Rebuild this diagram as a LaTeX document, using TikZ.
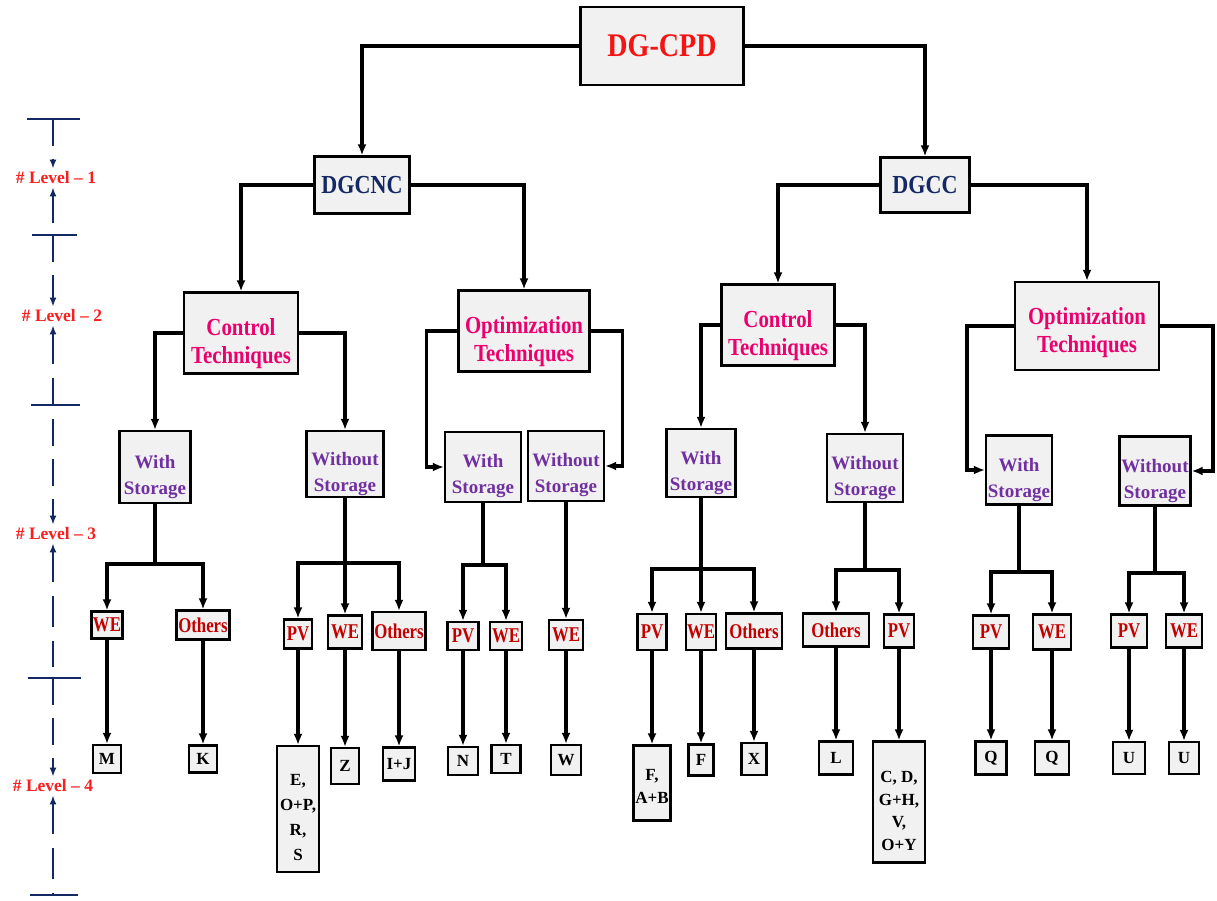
\documentclass[tikz,border=0pt]{standalone}
\usepackage{fontspec}
\setmainfont{Liberation Serif}
\newfontfamily\cnarrow[FakeStretch=0.85]{Liberation Serif}
\newfontfamily\cleaf[FakeStretch=0.8]{Liberation Serif}
\usetikzlibrary{arrows.meta}
\definecolor{navyc}{RGB}{20,40,100}
\definecolor{dgred}{RGB}{245,20,20}
\definecolor{lvlred}{RGB}{250,30,30}
\definecolor{pinkc}{RGB}{235,0,110}
\definecolor{purplec}{RGB}{112,48,160}
\definecolor{leafred}{RGB}{195,0,0}
\definecolor{boxgray}{RGB}{241,241,241}
\tikzset{
  box/.style={draw=black, line width=2.2pt, fill=boxgray, inner sep=0pt, align=center},
  wh/.style 2 args={minimum width=#1pt, minimum height=#2pt},
  rootbox/.style={box, font=\cnarrow\fontsize{33}{36}\selectfont\bfseries, text=dgred},
  l1box/.style={box, font=\cnarrow\fontsize{26}{28}\selectfont\bfseries, text=navyc},
  l2txt/.style={inner sep=0pt, align=center, font=\cnarrow\fontsize{24.5}{28}\selectfont\bfseries, text=pinkc},
  l3txt/.style={inner sep=0pt, align=center, font=\fontsize{19}{26}\selectfont\bfseries, text=purplec},
  leafbox/.style={box, font=\cleaf\fontsize{21}{22}\selectfont\bfseries, text=leafred},
  endbox/.style={box, font=\fontsize{17}{22}\selectfont\bfseries, text=black},
  endtxt/.style={inner sep=0pt, align=center, font=\fontsize{17}{23}\selectfont\bfseries, text=black},
  conn/.style={line width=3.3pt, -{Latex[length=11pt,width=9pt]}},
  plainln/.style={line width=3.3pt},
  lvltext/.style={font=\fontsize{17.5}{19}\selectfont\bfseries, text=lvlred, inner sep=2pt},
  lvldown/.style={line width=2.4pt, draw=navyc, dash pattern=on 27pt off 13pt, -{Latex[length=9pt,width=7pt]}},
  lvlup/.style={line width=2.4pt, draw=navyc, dash pattern=on 31pt off 14pt, {Latex[length=9pt,width=7pt]}-},
  lvlbar/.style={line width=2.4pt, draw=navyc},
}
\begin{document}
\begin{tikzpicture}[x=1pt, y=-1pt]
\path[use as bounding box] (0,0) rectangle (1217,901);

% ---------- level indicator ----------
\coordinate (t1) at (53,119);
\coordinate (t2) at (53,235);
\coordinate (t3) at (53,405);
\coordinate (t4) at (53,678);
\coordinate (t5) at (53,895);
\node[lvltext] (lv1) at (56,178) {\# Level -- 1};
\node[lvltext] (lv2) at (62,316) {\# Level -- 2};
\node[lvltext] (lv3) at (56,534) {\# Level -- 3};
\node[lvltext] (lv4) at (53,786) {\# Level -- 4};
\draw[lvlbar] ([xshift=-26pt]t1) -- ([xshift=27pt]t1);
\draw[lvlbar] ([xshift=-21pt]t2) -- ([xshift=24pt]t2);
\draw[lvlbar] ([xshift=-22pt]t3) -- ([xshift=27pt]t3);
\draw[lvlbar] ([xshift=-25pt]t4) -- ([xshift=28pt]t4);
\draw[lvlbar] ([xshift=-23pt]t5) -- ([xshift=25pt]t5);
\draw[lvldown] (t1) -- ([yshift=1pt]t1 |- lv1.north);
\draw[lvlup, shorten >=12pt] ([yshift=-1pt]t2 |- lv1.south) -- (t2);
\draw[lvldown] (t2) -- ([yshift=1pt]t2 |- lv2.north);
\draw[lvlup] ([yshift=-1pt]t3 |- lv2.south) -- (t3);
\draw[lvldown, shorten <=14pt] (t3) -- ([yshift=1pt]t3 |- lv3.north);
\draw[lvlup, shorten >=11pt] ([yshift=-1pt]t4 |- lv3.south) -- (t4);
\draw[lvldown] (t4) -- ([yshift=1pt]t4 |- lv4.north);
\draw[lvlup] ([yshift=-1pt]t5 |- lv4.south) -- (t5);

% ---------- tree nodes ----------
\node[rootbox, wh={163}{78}] (root) at (662,46) {DG-CPD};
\node[l1box, wh={95}{57}] (dgcnc) at (362,185) {DGCNC};
\node[l1box, wh={89}{55}] (dgcc) at (925,185) {DGCC};

\node[box, wh={114}{81}, label={[l2txt, yshift=-11pt]center:{Control\\Techniques}}] (ct1) at (241,333) {};
\node[box, wh={131}{81}, label={[l2txt, yshift=-11pt]center:{Optimization\\Techniques}}] (ot1) at (524,331) {};
\node[box, wh={113}{81}, label={[l2txt, yshift=-11pt]center:{Control\\Techniques}}] (ct2) at (778,325) {};
\node[box, wh={144}{88}, label={[l2txt, yshift=-7pt]center:{Optimization\\Techniques}}] (ot2) at (1087,326) {};

\node[box, wh={71}{72}, label={[l3txt, yshift=-10pt]center:{With\\Storage}}] (ws1) at (155,467) {};
\node[box, wh={77}{66}, label={[l3txt, yshift=-10pt]center:{Without\\Storage}}] (wo1) at (345,464) {};
\node[box, wh={76}{70}, label={[l3txt, yshift=-9pt]center:{With\\Storage}}] (ws2) at (483,467) {};
\node[box, wh={76}{70}, label={[l3txt, yshift=-9pt]center:{Without\\Storage}}] (wo2) at (566,466) {};
\node[box, wh={69}{68}, label={[l3txt, yshift=-10pt]center:{With\\Storage}}] (ws3) at (701,463) {};
\node[box, wh={76}{68}, label={[l3txt, yshift=-10pt]center:{Without\\Storage}}] (wo3) at (865,468) {};
\node[box, wh={66}{69}, label={[l3txt, yshift=-10pt]center:{With\\Storage}}] (ws4) at (1019,470) {};
\node[box, wh={71}{69}, label={[l3txt, yshift=-10pt]center:{Without\\Storage}}] (wo4) at (1155,471) {};

\node[leafbox, wh={31}{27}] (a1) at (107,625) {WE};
\node[leafbox, wh={53}{29}] (a2) at (203,625) {Others};
\node[leafbox, wh={28}{29}] (a3) at (298,634) {PV};
\node[leafbox, wh={34}{33}] (a4) at (345,632) {WE};
\node[leafbox, wh={53}{38}] (a5) at (399,631) {Others};
\node[leafbox, wh={31}{28}] (a6) at (463,636) {PV};
\node[leafbox, wh={32}{28}] (a7) at (506,636) {WE};
\node[leafbox, wh={34}{30}] (a8) at (566,635) {WE};
\node[leafbox, wh={29}{36}] (a9) at (652,632) {PV};
\node[leafbox, wh={30}{36}] (a10) at (701,632) {WE};
\node[leafbox, wh={56}{35}] (a11) at (754,631) {Others};
\node[leafbox, wh={66}{33}] (a12) at (836,630) {Others};
\node[leafbox, wh={30}{33}] (a13) at (899,631) {PV};
\node[leafbox, wh={36}{33}] (a14) at (991,632) {PV};
\node[leafbox, wh={38}{35}] (a15) at (1052,632) {WE};
\node[leafbox, wh={36}{33}] (a16) at (1129,631) {PV};
\node[leafbox, wh={36}{33}] (a17) at (1184,631) {WE};

\node[endbox, wh={28}{28}] (b1) at (107,759) {M};
\node[endbox, wh={28}{27}] (b2) at (203,759) {K};
\node[box, wh={42}{126}, label={[endtxt, font=\fontsize{17}{25}\selectfont\bfseries, yshift=-9pt]center:{E,\\O+P,\\R,\\S}}] (b3) at (298,809) {};
\node[endbox, wh={28}{36}] (b4) at (345,766) {Z};
\node[endbox, wh={32}{33}] (b5) at (399,764) {I+J};
\node[endbox, wh={30}{28}] (b6) at (463,761) {N};
\node[endbox, wh={29}{28}] (b7) at (506,759) {T};
\node[endbox, wh={30}{30}] (b8) at (566,760) {W};
\node[box, wh={37}{75}, label={[endtxt, yshift=-3pt]center:{F,\\A+B}}] (b9) at (652,783) {};
\node[endbox, wh={25}{31}] (b10) at (701,760) {F};
\node[endbox, wh={25}{32}] (b11) at (754,759) {X};
\node[endbox, wh={34}{33}] (b12) at (836,758) {L};
\node[box, wh={52}{121}, label={[endtxt, font=\fontsize{17}{22.5}\selectfont\bfseries, yshift=-9pt]center:{C, D,\\G+H,\\V,\\O+Y}}] (b13) at (899,802) {};
\node[endbox, wh={31}{33}] (b14) at (991,758) {Q};
\node[endbox, wh={34}{33}] (b15) at (1052,758) {Q};
\node[endbox, wh={32}{32}] (b16) at (1129,758) {U};
\node[endbox, wh={30}{32}] (b17) at (1184,758) {U};

% ---------- connectors ----------
\draw[conn] (root.west) -| (dgcnc.north);
\draw[conn] (root.east) -| (dgcc.north);
\draw[conn] (dgcnc.west) -| (ct1.north);
\draw[conn] (dgcnc.east) -| (ot1.north);
\draw[conn] (dgcc.west) -| (ct2.north);
\draw[conn] (dgcc.east) -| (ot2.north);

\draw[conn] (ct1.west) -| (ws1.north);
\draw[conn] (ct1.east) -| (wo1.north);
\draw[conn] (ot1.west) -- ++(-31,0) |- (ws2.west);
\draw[conn] (ot1.east) -- ++(32,0) |- (wo2.east);
\draw[conn] (ct2.west) -| (ws3.north);
\draw[conn] (ct2.east) -| (wo3.north);
\draw[conn] (ot2.west) -- ++(-47,0) |- (ws4.west);
\draw[conn] (ot2.east) -- ++(53,0) |- (wo4.east);

\coordinate (j1) at (155,564);
\coordinate (j2) at (345,563);
\coordinate (j3) at (483,565);
\coordinate (j5) at (701,569);
\coordinate (j6) at (865,570);
\coordinate (j7) at (1019,572);
\coordinate (j8) at (1155,573);

\draw[plainln] (ws1.south) -- (j1);
\draw[conn] (j1) -| (a1.north);
\draw[conn] (j1) -| (a2.north);

\draw[plainln] (wo1.south) -- (j2);
\draw[conn] (j2) -| (a3.north);
\draw[conn] (wo1.south) -- (a4.north);
\draw[conn] (j2) -| (a5.north);

\draw[plainln] (ws2.south) -- (j3);
\draw[conn] (j3) -| (a6.north);
\draw[conn] (j3) -| (a7.north);

\draw[conn] (wo2.south) -- (a8.north);

\draw[plainln] (ws3.south) -- (j5);
\draw[conn] (j5) -| (a9.north);
\draw[conn] (ws3.south) -- (a10.north);
\draw[conn] (j5) -| (a11.north);

\draw[plainln] (wo3.south) -- (j6);
\draw[conn] (j6) -| (a12.north);
\draw[conn] (j6) -| (a13.north);

\draw[plainln] (ws4.south) -- (j7);
\draw[conn] (j7) -| (a14.north);
\draw[conn] (j7) -| (a15.north);

\draw[plainln] (wo4.south) -- (j8);
\draw[conn] (j8) -| (a16.north);
\draw[conn] (j8) -| (a17.north);

\draw[conn] (a1.south) -- (b1.north);
\draw[conn] (a2.south) -- (b2.north);
\draw[conn] (a3.south) -- (b3.north);
\draw[conn] (a4.south) -- (b4.north);
\draw[conn] (a5.south) -- (b5.north);
\draw[conn] (a6.south) -- (b6.north);
\draw[conn] (a7.south) -- (b7.north);
\draw[conn] (a8.south) -- (b8.north);
\draw[conn] (a9.south) -- (b9.north);
\draw[conn] (a10.south) -- (b10.north);
\draw[conn] (a11.south) -- (b11.north);
\draw[conn] (a12.south) -- (b12.north);
\draw[conn] (a13.south) -- (b13.north);
\draw[conn] (a14.south) -- (b14.north);
\draw[conn] (a15.south) -- (b15.north);
\draw[conn] (a16.south) -- (b16.north);
\draw[conn] (a17.south) -- (b17.north);
\end{tikzpicture}
\end{document}
